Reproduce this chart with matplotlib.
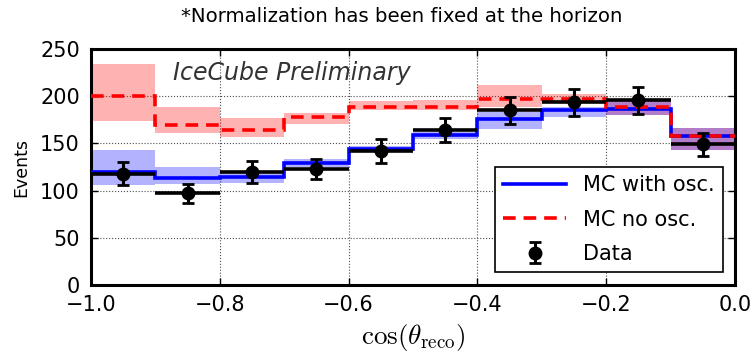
import matplotlib
matplotlib.use('Agg')
import matplotlib.pyplot as plt
import numpy as np

plt.rcParams['mathtext.fontset'] = 'cm'

# bin edges in cos(theta_reco)
edges = [-1.0, -0.9, -0.8, -0.7, -0.6, -0.5, -0.4, -0.3, -0.2, -0.1, 0.0]
centers = [-0.95, -0.85, -0.75, -0.65, -0.55, -0.45, -0.35, -0.25, -0.15, -0.05]

# MC with oscillations + uncertainty band
mc_osc = [120, 113.5, 114.5, 129.5, 144, 158.5, 175.5, 185, 186, 157.5]
mc_osc_lo = [105.5, 107.5, 108, 125, 141, 155, 165.5, 178, 180, 143.5]
mc_osc_hi = [142.5, 125, 119.5, 134, 147, 162, 183, 188.5, 197, 166.5]

# MC without oscillations + uncertainty band
mc_noosc = [200, 170, 164, 178.5, 188.5, 188.5, 197, 197, 188.5, 157.5]
mc_noosc_lo = [173.5, 161, 157, 171, 185, 185, 188.5, 193.5, 180, 143.5]
mc_noosc_hi = [234, 189, 177, 182, 194.5, 195.5, 211.5, 202.5, 197.5, 166.5]

# data
data = [118, 97, 120, 123, 142, 164.5, 185, 193.5, 195.5, 149]
data_err = [12.5, 10, 11.5, 11, 12.5, 12.5, 14, 14, 14, 12.5]
half_width = 0.05

fig = plt.figure(figsize=(7.51, 3.57), dpi=100)
ax = fig.add_axes([0.1212, 0.2017, 0.8575, 0.661])

# bands
ax.stairs(mc_noosc_hi, edges, baseline=mc_noosc_lo, fill=True,
          color='red', alpha=0.3, lw=0, zorder=1)
ax.stairs(mc_osc_hi, edges, baseline=mc_osc_lo, fill=True,
          color='blue', alpha=0.3, lw=0, zorder=1)

# MC lines
ax.stairs(mc_osc, edges, baseline=None, color='blue', lw=2.6,
          label='MC with osc.', zorder=3)
ax.stairs(mc_noosc, edges, baseline=None, color='red', lw=2.6,
          ls=(0, (3.5, 2.2)), label='MC no osc.', zorder=4)

# data: horizontal bin-width bars and vertical error bars
ax.errorbar(centers, data, xerr=half_width, fmt='none', ecolor='black',
            elinewidth=2.6, capsize=0, zorder=5)
ax.errorbar(centers, data, yerr=data_err, fmt='o', color='black',
            markersize=9, elinewidth=2.2, capsize=4.5, capthick=2,
            label='Data', zorder=6)

ax.set_xlim(-1.0, 0.0)
ax.set_ylim(0, 250)
ax.set_xticks([-1.0, -0.8, -0.6, -0.4, -0.2, 0.0])
ax.set_yticks([0, 50, 100, 150, 200, 250])
ax.grid(True, color='0.3', linestyle=':', linewidth=0.8)
ax.set_axisbelow(True)

ax.tick_params(direction='in', top=True, right=True, length=5, width=1,
               labelsize=15)
ax.tick_params(axis='y', pad=8)
ax.tick_params(axis='x', pad=7)
for sp in ax.spines.values():
    sp.set_linewidth(2.2)

ax.set_ylabel('Events', fontsize=12.5, labelpad=7)
ax.set_xlabel(r'$\cos(\theta_{\rm reco})$', fontsize=19.5, labelpad=5)

ax.text(-0.873, 225, 'IceCube Preliminary', fontsize=17, style='italic',
        color='0.2', va='center', ha='left')

fig.text(0.535, 1 - 17 / 357, '*Normalization has been fixed at the horizon',
         fontsize=14.2, ha='center', va='center')

leg = ax.legend(loc='lower right', fontsize=15, fancybox=False,
                edgecolor='black', framealpha=1, handlelength=3.0,
                labelspacing=0.7, borderaxespad=0.6, numpoints=1)
leg.get_frame().set_linewidth(1.2)

fig.savefig('out.png', dpi=100)
